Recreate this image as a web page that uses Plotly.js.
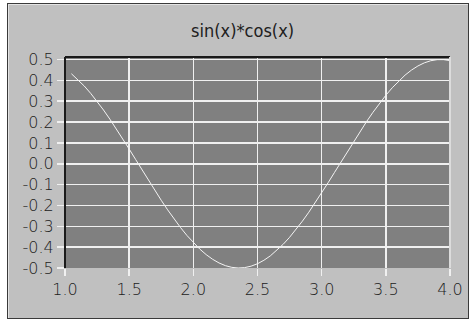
<!DOCTYPE html>
<html>
<head>
<meta charset="utf-8">
<script src="https://cdn.plot.ly/plotly-3.0.1.min.js"></script>
<style>
  html, body { margin: 0; padding: 0; background: #ffffff; width: 470px; height: 321px; overflow: hidden; }
  #frame { position: absolute; left: 7px; top: 3px; width: 460px; height: 314px;
           border: 1px solid #3a3a3a; box-shadow: inset 1px 1px 0 #e4e4e4; background: #c0c0c0; }
  #chart { position: absolute; left: 0; top: 0; width: 460px; height: 314px; }
</style>
</head>
<body>
<div id="frame"><div id="chart"></div></div>
<script>
const chartTitle = "sin(x)*cos(x)";
const xValues = [1.05,1.10,1.15,1.20,1.25,1.30,1.35,1.40,1.45,1.50,1.55,1.60,1.65,1.70,1.75,1.80,1.85,1.90,1.95,2.00,
  2.05,2.10,2.15,2.20,2.25,2.30,2.35,2.40,2.45,2.50,2.55,2.60,2.65,2.70,2.75,2.80,2.85,2.90,2.95,3.00,
  3.05,3.10,3.15,3.20,3.25,3.30,3.35,3.40,3.45,3.50,3.55,3.60,3.65,3.70,3.75,3.80,3.85,3.90,3.95,4.00];
const yValues = [0.4316,0.4043,0.3729,0.3377,0.2992,0.2578,0.2137,0.1675,0.1196,0.0706,0.0208,-0.0292,-0.0789,-0.1278,-0.1754,-0.2213,-0.2649,-0.3059,-0.3439,-0.3784,
  -0.4091,-0.4358,-0.4581,-0.4758,-0.4888,-0.4969,-0.5000,-0.4981,-0.4912,-0.4795,-0.4629,-0.4418,-0.4162,-0.3864,-0.3528,-0.3157,-0.2754,-0.2323,-0.1869,-0.1397,
  -0.0911,-0.0416,0.0084,0.0583,0.1076,0.1558,0.2024,0.2470,0.2892,0.3285,0.3645,0.3968,0.4252,0.4493,0.4690,0.4840,0.4941,0.4993,0.4994,0.4947];
const xTickVals = [1.0,1.5,2.0,2.5,3.0,3.5,4.0];
const xTickText = ["1.0","1.5","2.0","2.5","3.0","3.5","4.0"];
const yTickVals = [0.5,0.4,0.3,0.2,0.1,0.0,-0.1,-0.2,-0.3,-0.4,-0.5];
const yTickText = ["0.5","0.4","0.3","0.2","0.1","0.0","-0.1","-0.2","-0.3","-0.4","-0.5"];

const tickFont = { family: "DejaVu Sans", size: 16, color: "#202020", weight: 300 };

const trace = {
  x: xValues, y: yValues, type: "scatter", mode: "lines",
  line: { color: "#f4f4f4", width: 1 }, hoverinfo: "none"
};

const layout = {
  width: 460, height: 314,
  margin: { l: 57, r: 18, t: 53, b: 50, pad: 0 },
  paper_bgcolor: "rgba(0,0,0,0)",
  plot_bgcolor: "#808080",
  showlegend: false,
  title: {
    text: chartTitle, x: 0.51, xref: "container", xanchor: "center",
    y: 0.915, yref: "container", yanchor: "middle",
    font: { family: "DejaVu Sans Condensed, DejaVu Sans", size: 18, color: "#202020", weight: 300 }
  },
  xaxis: {
    range: [1.0, 4.0], tickvals: xTickVals, ticktext: xTickText,
    ticks: "outside", ticklen: 7, tickwidth: 1.5, tickcolor: "#f0f0f0",
    showgrid: true, gridcolor: "#f0f0f0", gridwidth: 1.5,
    zeroline: false, showline: false, tickfont: tickFont, fixedrange: true
  },
  yaxis: {
    range: [-0.5, 0.512], tickvals: yTickVals, ticktext: yTickText,
    ticks: "outside", ticklen: 7, tickwidth: 1.5, tickcolor: "#f0f0f0",
    showgrid: true, gridcolor: "#f0f0f0", gridwidth: 1.5,
    zeroline: false, showline: false, tickfont: tickFont, fixedrange: true
  },
  shapes: [
    { type: "line", xref: "paper", yref: "paper", x0: 0, x1: 1, y0: 1, y1: 1, line: { color: "#1a1a1a", width: 2 }, layer: "above" },
    { type: "line", xref: "paper", yref: "paper", x0: 0, x1: 0, y0: 0, y1: 1, line: { color: "#1a1a1a", width: 2 }, layer: "above" },
    { type: "line", xref: "paper", yref: "paper", x0: 1, x1: 1, y0: 0, y1: 1, line: { color: "#dcdcdc", width: 2 }, layer: "above" }
  ]
};

Plotly.newPlot("chart", [trace], layout, { staticPlot: true, displayModeBar: false });
</script>
</body>
</html>
